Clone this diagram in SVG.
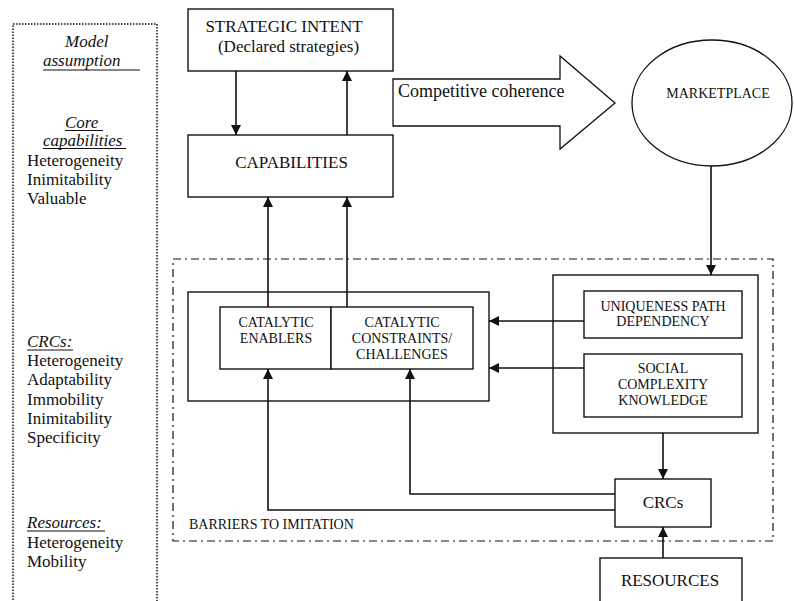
<svg xmlns="http://www.w3.org/2000/svg" width="794" height="601" viewBox="0 0 794 601" font-family="'Liberation Serif', 'Times New Roman', Times, serif">
<defs>
<style>
text{font-family:'Liberation Serif','Times New Roman',Times,serif;fill:#111}
.big{font-size:17px}
.sm{font-size:14px}
.it{font-style:italic}
.box{fill:#fff;stroke:#111;stroke-width:1.4}
.ln{fill:none;stroke:#111;stroke-width:1.6}
.ul{stroke:#111;stroke-width:1}
</style>
<marker id="ah" viewBox="0 0 10 10" refX="10" refY="5" markerWidth="10" markerHeight="10" markerUnits="userSpaceOnUse" orient="auto">
<path d="M0,0 L10,5 L0,10 z" fill="#111"/>
</marker>
</defs>
<rect width="794" height="601" fill="#fff"/>

<g id="assumptions">
<rect x="13" y="24" width="144" height="600" fill="none" stroke="#111" stroke-width="1.5" stroke-dasharray="1.5 1.5"/>
<text class="big it" x="65" y="47">Model</text>
<text class="big it" x="43" y="66">assumption</text>
<line class="ul" x1="43" y1="70" x2="140" y2="70"/>
<text class="big it" x="65" y="128">Core</text>
<line class="ul" x1="65" y1="130.5" x2="103" y2="130.5"/>
<text class="big it" x="43" y="146">capabilities</text>
<line class="ul" x1="43" y1="148.5" x2="126" y2="148.5"/>
<text class="big" x="27" y="166">Heterogeneity</text>
<text class="big" x="27" y="185">Inimitability</text>
<text class="big" x="27" y="204">Valuable</text>
<text class="big it" x="27" y="347">CRCs:</text>
<line class="ul" x1="27" y1="350" x2="73" y2="350"/>
<text class="big" x="27" y="366">Heterogeneity</text>
<text class="big" x="27" y="385">Adaptability</text>
<text class="big" x="27" y="405">Immobility</text>
<text class="big" x="27" y="424">Inimitability</text>
<text class="big" x="27" y="443">Specificity</text>
<text class="big it" x="27" y="528">Resources:</text>
<line class="ul" x1="27" y1="531" x2="105" y2="531"/>
<text class="big" x="27" y="548">Heterogeneity</text>
<text class="big" x="27" y="567">Mobility</text>
</g>

<g id="barriers">
<rect x="173" y="259" width="600" height="282" fill="none" stroke="#111" stroke-width="1.2" stroke-dasharray="8 4 2 4"/>
<text class="sm" x="189" y="529">BARRIERS TO IMITATION</text>
</g>

<g id="strategic-intent">
<rect class="box" x="188" y="9" width="205" height="62"/>
<text class="big" x="284" y="32" text-anchor="middle">STRATEGIC INTENT</text>
<text class="big" x="288.5" y="52" text-anchor="middle">(Declared strategies)</text>
</g>

<g id="capabilities">
<rect class="box" x="188" y="135" width="205" height="62"/>
<text class="big" x="291.5" y="168" text-anchor="middle">CAPABILITIES</text>
</g>

<g id="competitive-coherence">
<polygon points="393,79 560,79 560,56 615,103 560,149 560,126 393,126" fill="#fff" stroke="#111" stroke-width="1.3"/>
<text class="big" x="398" y="97" style="font-size:18px">Competitive coherence</text>
</g>

<g id="marketplace">
<ellipse cx="712" cy="103" rx="80" ry="63" fill="#fff" stroke="#111" stroke-width="1.3"/>
<text class="sm" x="718" y="98" text-anchor="middle">MARKETPLACE</text>
</g>

<g id="catalytic-group">
<rect class="box" x="188" y="292" width="301" height="109"/>
</g>
<g id="catalytic-enablers">
<rect class="box" x="220" y="307" width="111" height="62"/>
<text class="sm" x="276" y="327" text-anchor="middle">CATALYTIC</text>
<text class="sm" x="276" y="343" text-anchor="middle">ENABLERS</text>
</g>
<g id="catalytic-constraints">
<rect class="box" x="331" y="307" width="142" height="62"/>
<text class="sm" x="402" y="327" text-anchor="middle">CATALYTIC</text>
<text class="sm" x="402" y="343" text-anchor="middle">CONSTRAINTS/</text>
<text class="sm" x="402" y="359" text-anchor="middle">CHALLENGES</text>
</g>

<g id="barrier-sources">
<rect class="box" x="553" y="275" width="205" height="158"/>
</g>
<g id="uniqueness">
<rect class="box" x="584" y="291" width="158" height="47"/>
<text class="sm" x="663" y="311" text-anchor="middle">UNIQUENESS PATH</text>
<text class="sm" x="663" y="326" text-anchor="middle">DEPENDENCY</text>
</g>
<g id="social-complexity">
<rect class="box" x="584" y="354" width="158" height="63"/>
<text class="sm" x="663" y="373" text-anchor="middle">SOCIAL</text>
<text class="sm" x="663" y="389" text-anchor="middle">COMPLEXITY</text>
<text class="sm" x="663" y="405" text-anchor="middle">KNOWLEDGE</text>
</g>

<g id="crcs">
<rect class="box" x="615" y="479" width="96" height="48"/>
<text class="big" x="663" y="508" text-anchor="middle">CRCs</text>
</g>

<g id="resources">
<rect class="box" x="600" y="558" width="142" height="60"/>
<text class="big" x="670" y="586" text-anchor="middle">RESOURCES</text>
</g>

<g id="connectors">
<line class="ln" x1="236" y1="71" x2="236" y2="135" marker-end="url(#ah)"/>
<line class="ln" x1="347" y1="135" x2="347" y2="71" marker-end="url(#ah)"/>
<line class="ln" x1="268" y1="307" x2="268" y2="197" marker-end="url(#ah)"/>
<line class="ln" x1="347" y1="307" x2="347" y2="197" marker-end="url(#ah)"/>
<line class="ln" x1="711" y1="166" x2="711" y2="275" marker-end="url(#ah)"/>
<line class="ln" x1="584" y1="321" x2="489" y2="321" marker-end="url(#ah)"/>
<line class="ln" x1="584" y1="368" x2="489" y2="368" marker-end="url(#ah)"/>
<line class="ln" x1="663" y1="433" x2="663" y2="479" marker-end="url(#ah)"/>
<line class="ln" x1="663" y1="558" x2="663" y2="527" marker-end="url(#ah)"/>
<polyline class="ln" points="615,510 268,510 268,369" marker-end="url(#ah)"/>
<polyline class="ln" points="615,494 410,494 410,369" marker-end="url(#ah)"/>
</g>
</svg>
